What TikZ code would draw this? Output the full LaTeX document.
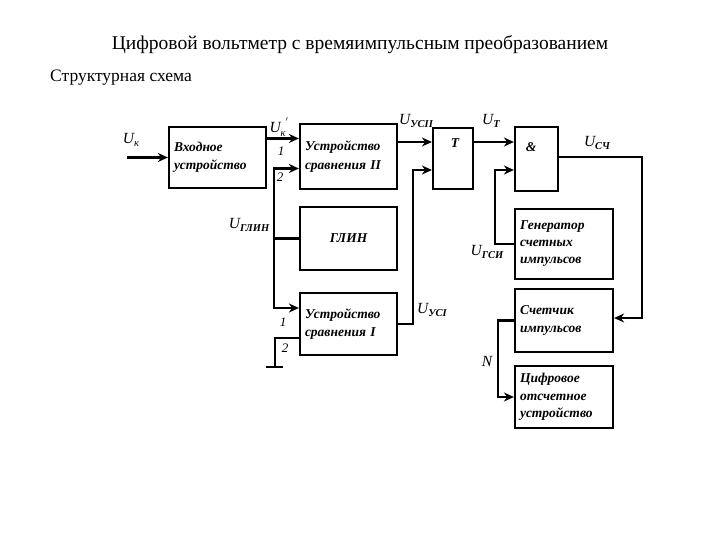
\documentclass[tikz,border=0pt]{standalone}
\usepackage{fontspec}
\setmainfont{Liberation Serif}
\usepackage{tikz}
\usetikzlibrary{arrows.meta}

% label U with a subscript
\newcommand{\usig}[1]{U\raisebox{-0.5ex}{\fontsize{10.5}{10.5}\selectfont\bfseries #1}}

\begin{document}
\begin{tikzpicture}[x=1pt, y=-1pt,
    blk/.style={draw, line width=2.2pt, inner xsep=5pt, inner ysep=0pt, align=left,
      font=\bfseries\itshape\fontsize{13.5}{18.5}\selectfont},
    lbl/.style={inner sep=0pt, font=\itshape\fontsize{15.5}{15.5}\selectfont},
    pin/.style={inner sep=0pt, font=\itshape\fontsize{13}{13}\selectfont},
    ln/.style={line width=2.2pt},
    arr/.style={ln, -{Stealth[length=10pt, width=9pt]}}]
    \useasboundingbox (0,0) rectangle (720,540);

    \node (title) at (360,45) {\fontsize{19.5}{19.5}\selectfont Цифровой вольтметр с времяимпульсным преобразованием};
    \node[anchor=west, inner sep=0pt] (sub) at (50,78) {\fontsize{17.5}{17.5}\selectfont Структурная схема};

    % blocks
    \node[blk, text width=87pt, minimum height=61pt] (vhod) at (217.5,157.5) {Входное\\устройство};
    \node[blk, text width=87pt, minimum height=65pt] (us2) at (348.5,156.5) {Устройство\\сравнения II};
    \node[blk, minimum width=40pt, minimum height=61pt] (trig) at (453,158.5) {};
    \node[blk, minimum width=43pt, minimum height=64pt] (andg) at (536.5,159) {};
    \node[blk, text width=87pt, minimum height=63pt, align=center] (glin) at (348.5,238.5) {ГЛИН};
    \node[blk, text width=88pt, minimum height=70pt] (gsi) at (564,244) {Генератор\\[-1.5pt]счетных\\[-1.5pt]импульсов};
    \node[blk, text width=87pt, minimum height=62pt] (us1) at (348.5,324) {Устройство\\сравнения I};
    \node[blk, text width=88pt, minimum height=63pt] (sch) at (564,320.5) {Счетчик\\импульсов};
    \node[blk, text width=88pt, minimum height=62pt] (cou) at (564,397) {Цифровое\\[-1pt]отсчетное\\[-1pt]устройство};

    \node[blk, draw=none] (ttxt) at (455,143) {Т};
    \node[blk, draw=none] (atxt) at (531,147) {\&};

    % ports
    \coordinate (ux) at (127,157.5);
    \coordinate (s2a) at ([yshift=18pt]us2.west);
    \coordinate (s2b) at ([yshift=-12pt]us2.west);
    \coordinate (s1a) at ([yshift=16pt]us1.west);
    \coordinate (s1b) at ([yshift=-14pt]us1.west);
    \coordinate (gnd) at (275,367);
    \coordinate (ta) at ([yshift=16.5pt]trig.west);
    \coordinate (tb) at ([yshift=-11.5pt]trig.west);
    \coordinate (aa) at ([yshift=17pt]andg.west);
    \coordinate (ab) at ([yshift=-11pt]andg.west);
    \coordinate (sa) at ([yshift=2.5pt]sch.east);

    % connections
    \draw[arr] (ux) -- (vhod.west);
    \draw[arr] (vhod.east |- s2a) -- (s2a);
    \draw[ln] (glin.west) -- ++(-25,0) coordinate (gbus);
    \draw[arr] (gbus) |- (s2b);
    \draw[arr] (gbus) |- (s1a);
    \draw[ln] (s1b) -| (gnd);
    \draw[ln] ([xshift=-9pt]gnd) -- ([xshift=8pt]gnd);
    \draw[arr] (us2.east |- ta) -- (ta);
    \draw[arr] (us1.east) -- ++(15,0) |- (tb);
    \draw[arr] (trig.east |- aa) -- (aa);
    \draw[arr] (gsi.west) -- ++(-19,0) |- (ab);
    \draw[arr] ([yshift=2pt]andg.east) -- ++(83,0) |- (sa);
    \draw[arr] (sch.west) -- ++(-16,0) |- (cou.west);

    % labels
    \node[lbl] (lux) at (131,140) {U\raisebox{-0.5ex}{\fontsize{10.5}{10.5}\selectfont к}};
    \node[lbl] (luxp) at (279,127) {U\raisebox{-0.5ex}{\fontsize{10.5}{10.5}\selectfont к}\raisebox{1ex}{\fontsize{10.5}{10.5}\selectfont$'$}};
    \node[pin] (p21) at (281,151) {1};
    \node[pin] (p22) at (280,177) {2};
    \node[lbl] (lglin) at (249,225) {\usig{ГЛИН}};
    \node[pin] (p11) at (283,322) {1};
    \node[pin] (p12) at (285,348) {2};
    \node[lbl] (lus2) at (416,121) {\usig{УСII}};
    \node[lbl] (lt) at (491,121) {\usig{Т}};
    \node[lbl] (lsch) at (597,143) {\usig{СЧ}};
    \node[lbl] (lgsi) at (487,252) {\usig{ГСИ}};
    \node[lbl] (lus1) at (432,310) {\usig{УСI}};
    \node[lbl] (ln) at (487,361) {N};
\end{tikzpicture}
\end{document}
